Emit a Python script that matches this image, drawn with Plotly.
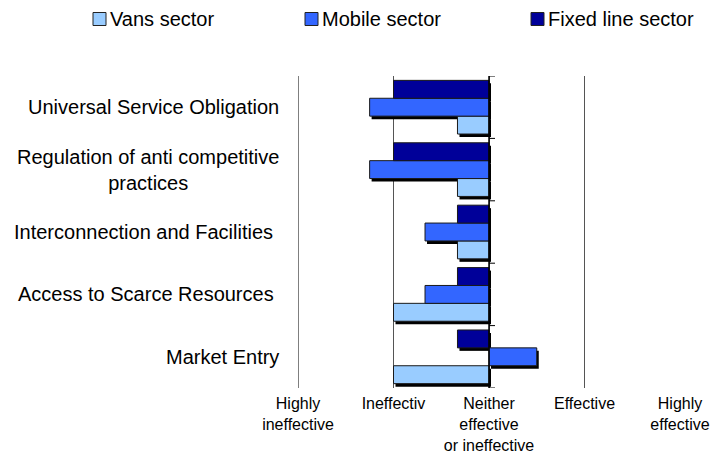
import plotly.graph_objects as go

categories = ["Market Entry", "Access to Scarce Resources ", "Interconnection and Facilities ",
              "Regulation of anti competitive<br>practices", "Universal Service Obligation"]
vans = [2.0, 2.0, 2.67, 2.67, 2.67]
mobile = [3.5, 2.33, 2.33, 1.75, 1.75]
fixed = [2.67, 2.67, 2.67, 2.0, 2.0]
series_names = ["Vans sector", "Mobile sector", "Fixed line sector"]
tick_vals = [1, 2, 3, 4, 5]
tick_text = ["Highly<br>ineffective", "Ineffectiv", "Neither<br>effective<br>or ineffective",
             "Effective", "Highly<br>effective"]
NEUTRAL = 3

colors = ["#99CCFF", "#3366FF", "#000099"]
series = [vans, mobile, fixed]

# page offset (browser body margin) compensation
OFF = 8
W, H = 720 - OFF, 453 - OFF
L, R, T, B = 298 - OFF, 40, 76 - OFF, 65
PW, PH = W - L - R, H - T - B

grp = 0.86
bw = grp / 3
ypx = 5 / PH          # category units per pixel
xpx = 4 / PW          # x units per pixel

fig = go.Figure()
# shadows first
for k, vals in enumerate(series):
    fig.add_trace(go.Bar(
        y=list(range(len(categories))), x=[v - NEUTRAL for v in vals], base=NEUTRAL + 2 * xpx,
        orientation="h", width=bw, offset=-grp / 2 + k * bw - 3 * ypx,
        marker=dict(color="black", line=dict(width=0)), showlegend=False, hoverinfo="skip"))
for k, (name, vals, col) in enumerate(zip(series_names, series, colors)):
    fig.add_trace(go.Bar(
        y=list(range(len(categories))), x=[v - NEUTRAL for v in vals], base=NEUTRAL,
        orientation="h", name=name, width=bw, offset=-grp / 2 + k * bw,
        marker=dict(color=col, line=dict(color="#1a1a1a", width=1)), showlegend=False))

fig.add_shape(type="line", x0=NEUTRAL, x1=NEUTRAL, y0=0, y1=1, yref="paper",
              line=dict(color="black", width=1.5))
fig.add_shape(type="line", x0=1, x1=1, y0=0, y1=1, yref="paper",
              line=dict(color="black", width=1))
for i in range(len(categories) + 1):
    fig.add_shape(type="line", x0=NEUTRAL, x1=NEUTRAL + 6 / PW * 4, y0=i - 0.5, y1=i - 0.5,
                  line=dict(color="black", width=1))

for i, c in enumerate(categories):
    fig.add_annotation(x=0, xref="paper", y=i, yref="y", text=c, showarrow=False,
                       xanchor="right", align="center", xshift=-17,
                       font=dict(size=20))

# legend drawn manually
leg_x = [93, 305, 531]
leg_y = 19
for name, col, lx in zip(series_names, colors, leg_x):
    x0 = (lx - OFF - L) / PW
    x1 = (lx + 13 - OFF - L) / PW
    y0 = (H - B - (leg_y + 6.5 - OFF)) / PH
    y1 = (H - B - (leg_y - 6.5 - OFF)) / PH
    fig.add_shape(type="rect", xref="paper", yref="paper", x0=x0, x1=x1, y0=y0, y1=y1,
                  fillcolor=col, line=dict(color="#222222", width=1))
    fig.add_annotation(xref="paper", yref="paper", x=(lx + 15 - OFF - L) / PW,
                       y=(H - B - (leg_y - OFF)) / PH, text=name, showarrow=False,
                       xanchor="left", yanchor="middle", font=dict(size=20))

fig.update_layout(
    width=W, height=H,
    margin=dict(l=L, r=R, t=T, b=B, autoexpand=False),
    paper_bgcolor="white", plot_bgcolor="white",
    barmode="overlay", showlegend=False,
    font=dict(family="Liberation Sans, Arial, sans-serif", color="black"),
    xaxis=dict(range=[1, 5], tickvals=tick_vals, ticktext=tick_text,
               showgrid=True, gridcolor="#555555", gridwidth=1, zeroline=False,
               tickfont=dict(size=16), ticks="", showline=False, automargin=False,
               ticklabelstandoff=4),
    yaxis=dict(showticklabels=False, showgrid=False, showline=False, ticks="",
               automargin=False, range=[-0.5, 4.5], zeroline=False),
)
fig.write_html("out.html")
